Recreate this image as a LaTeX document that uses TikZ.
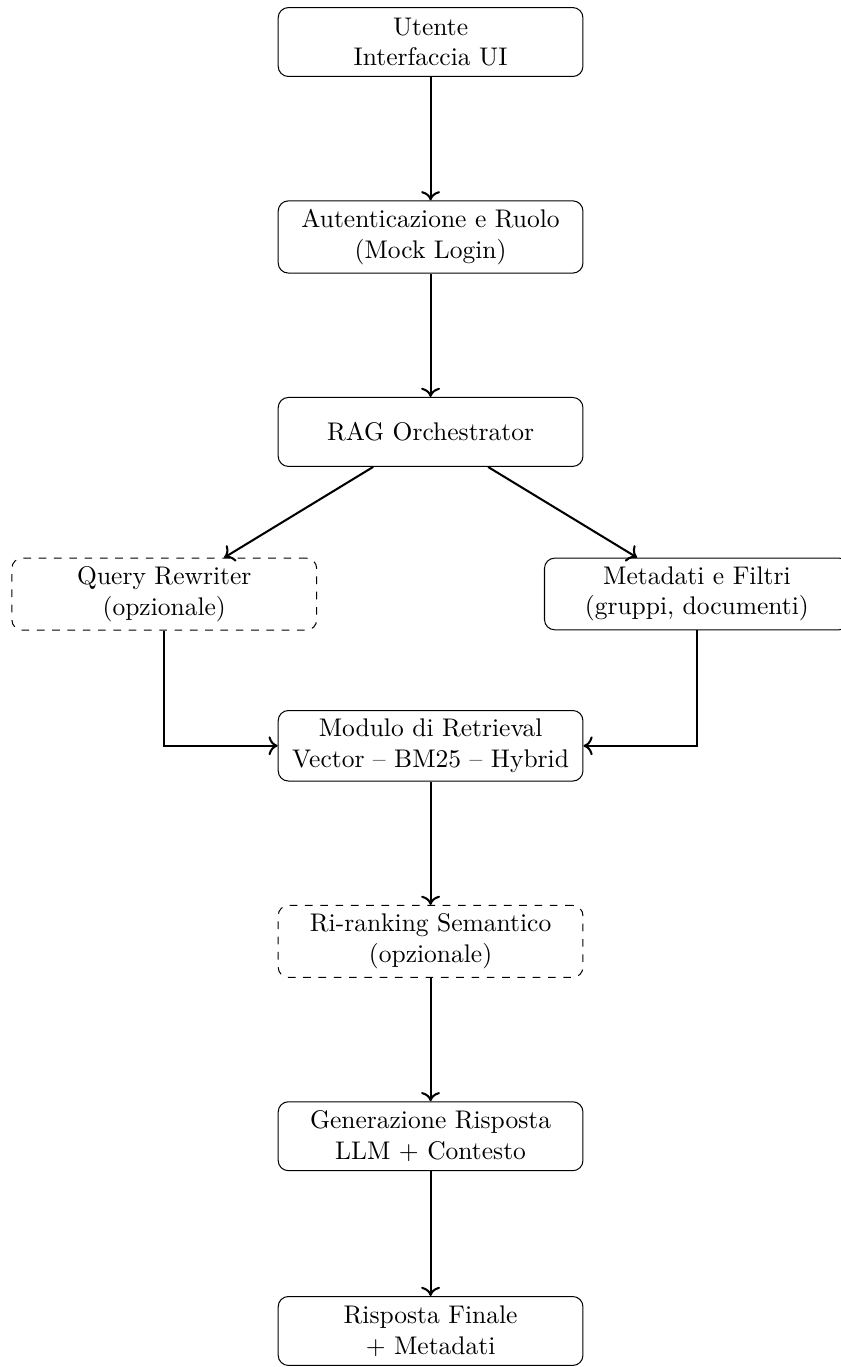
\documentclass[tikz,border=0pt]{standalone}
\usetikzlibrary{arrows.meta,positioning}
\begin{document}
\begin{tikzpicture}[>={Computer Modern Rightarrow[length=3.6pt,width=7.4pt]},node distance=1.7cm,box/.style={draw,rounded corners,align=center,minimum width=4.2cm,minimum height=0.95cm},optbox/.style={box,dashed},flow/.style={->,thick}]
\useasboundingbox (-5.934,0.579) rectangle (5.644,-18.26);
\node[box] (ui) {Utente\\Interfaccia UI};
\node[box,below=of ui] (auth) {Autenticazione e Ruolo\\(Mock Login)};
\node[box,below=of auth] (orch) {RAG Orchestrator};
\node[optbox,below=1.25cm of orch,xshift=-3.67cm] (rewrite) {Query Rewriter\\(opzionale)};
\node[box,below=1.25cm of orch,xshift=3.67cm] (meta) {Metadati e Filtri\\(gruppi, documenti)};
\node[box,below=3.35cm of orch] (retr) {Modulo di Retrieval\\Vector -- BM25 -- Hybrid};
\node[optbox,below=of retr] (rerank) {Ri-ranking Semantico\\(opzionale)};
\node[box,below=of rerank] (gen) {Generazione Risposta\\LLM + Contesto};
\node[box,below=1.72cm of gen] (out) {Risposta Finale\\+ Metadati};
\draw[flow](ui)--(auth);\draw[flow](auth)--(orch);\draw[flow](orch)--(rewrite);\draw[flow](orch)--(meta);\draw[flow](rewrite)|-(retr);\draw[flow](meta)|-(retr);\draw[flow](retr)--(rerank);\draw[flow](rerank)--(gen);\draw[flow](gen)--(out);
\end{tikzpicture}
\end{document}
